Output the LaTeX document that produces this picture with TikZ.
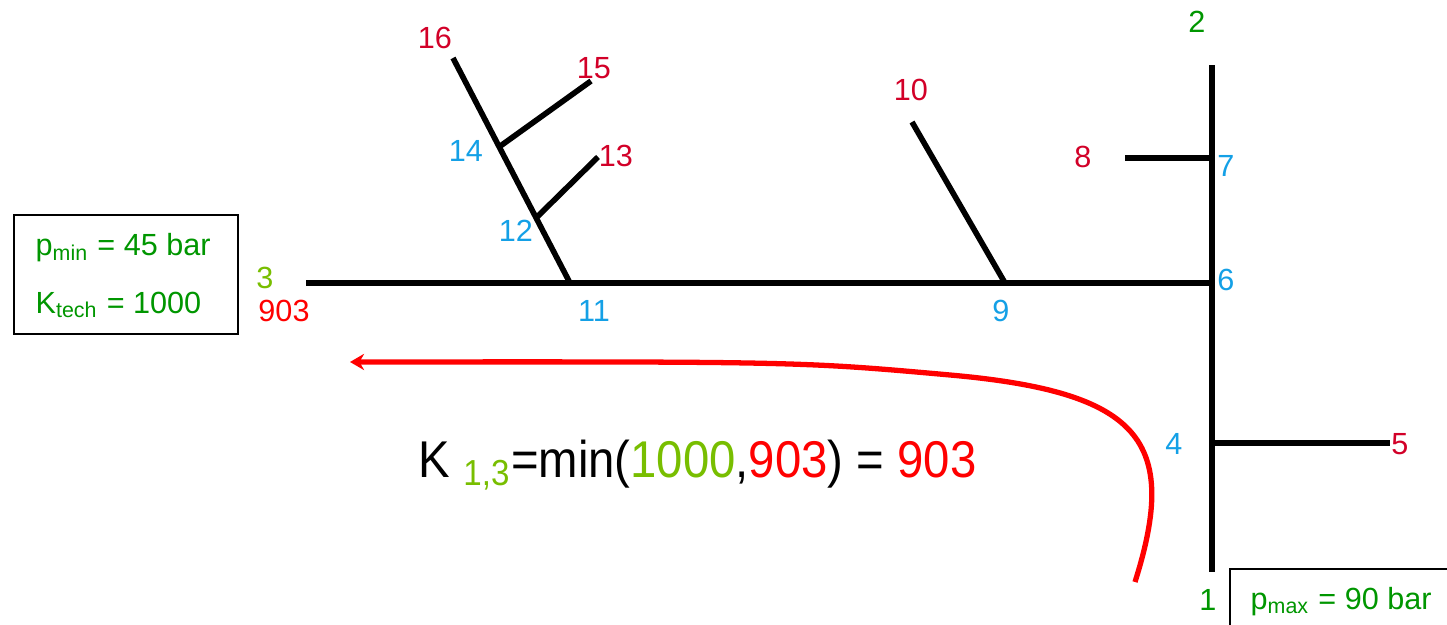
\documentclass[tikz,border=0pt]{standalone}
\usepackage{fontspec}
\setmainfont{Liberation Sans}
\usetikzlibrary{arrows.meta}
\definecolor{srcgreen}{RGB}{0,150,0}
\definecolor{limegreen}{RGB}{120,190,0}
\definecolor{junblue}{RGB}{20,160,230}
\definecolor{endred}{RGB}{210,0,40}
\definecolor{flowred}{RGB}{255,0,0}
\begin{document}
\begin{tikzpicture}[x=0.01cm,y=-0.01cm,>={Stealth[length=4pt,width=4.6pt]},
  pipe/.style={line width=1.6pt,line cap=butt},
  lab/.style={inner sep=0pt,font=\fontsize{8.7}{10}\selectfont},
  boxtxt/.style={inner sep=0pt,anchor=west,text=srcgreen,font=\fontsize{8.7}{10}\selectfont},
  limbox/.style={draw,line width=0.45pt,inner sep=0pt}]
  \useasboundingbox (0,0) rectangle (1447,625);
  % junctions and ends of the net
  \coordinate (n1) at (1212,572);
  \coordinate (n2) at (1212,65);
  \coordinate (n3) at (306,283);
  \coordinate (n4) at (1212,443);
  \coordinate (n5) at (1390,443);
  \coordinate (n6) at (1212,283);
  \coordinate (n7) at (1212,158);
  \coordinate (n8) at (1125,158);
  \coordinate (n9) at (1005,283);
  \coordinate (n10) at (912,122);
  \coordinate (n11) at (570,283);
  \coordinate (n12) at (536,218);
  \coordinate (n13) at (598,157);
  \coordinate (n14) at (499,147);
  \coordinate (n15) at (591,81);
  \coordinate (n16) at (453,58);
  \draw[pipe] (n1)--(n2);
  \draw[pipe] (n3)--(n6);
  \draw[pipe] (n7)--(n8);
  \draw[pipe] (n4)--(n5);
  \draw[pipe] (n9)--(n10);
  \draw[pipe] (n11)--(n16);
  \draw[pipe] (n12)--(n13);
  \draw[pipe] (n14)--(n15);
  % labels
  \node[lab,text=srcgreen] (l1) at (1208,600) {1};
  \node[lab,text=srcgreen] (l2) at (1197,22) {2};
  \node[lab,text=limegreen] (l3) at (265,278) {3};
  \node[lab,text=flowred] (k3) at (284,311) {903};
  \node[lab,text=junblue] (l4) at (1174,444) {4};
  \node[lab,text=endred] (l5) at (1400,444) {5};
  \node[lab,text=junblue] (l6) at (1226,280) {6};
  \node[lab,text=junblue] (l7) at (1226,166) {7};
  \node[lab,text=endred] (l8) at (1083,157) {8};
  \node[lab,text=junblue] (l9) at (1001,311) {9};
  \node[lab,text=endred] (l10) at (911,90) {10};
  \node[lab,text=junblue] (l11) at (594,311) {11};
  \node[lab,text=junblue] (l12) at (516,231) {12};
  \node[lab,text=endred] (l13) at (616,156) {13};
  \node[lab,text=junblue] (l14) at (466,151) {14};
  \node[lab,text=endred] (l15) at (594,68) {15};
  \node[lab,text=endred] (l16) at (435,38) {16};
  % limits
  \node[limbox,minimum width=2.24cm,minimum height=1.19cm,anchor=north west] (lim3) at (13,214) {};
  \node[boxtxt] (pmin) at (35,248) {p\textsubscript{min} = 45 bar};
  \node[boxtxt] (ktech) at (35,305) {K\textsubscript{tech} = 1000};
  \node[limbox,minimum width=2.4cm,minimum height=0.8cm,anchor=north west] (lim1) at (1229,568) {};
  \node[boxtxt] (pmax) at (1250,602) {p\textsubscript{max} = 90 bar};
  % flow back to 3
  \coordinate (tail) at (1135,582);
  \coordinate (bend) at (950,375);
  \coordinate (head) at (350,362);
  \draw[flowred,line width=1.5pt,->] (tail) .. controls (1180,440) and (1140,392) .. (bend)
    .. controls (800,361.6) .. (head);
  \node[inner sep=0pt,anchor=west,font=\fontsize{14.7}{17}\selectfont] (kmin) at (418,465)
    {\scalebox{0.915}[1]{K \textcolor{limegreen}{\textsubscript{1,3}}=min(\textcolor{limegreen}{1000},\textcolor{flowred}{903}) = \textcolor{flowred}{903}}};
\end{tikzpicture}
\end{document}
